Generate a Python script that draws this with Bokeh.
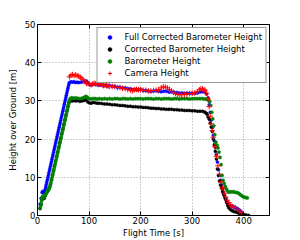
from bokeh.plotting import figure
from bokeh.models import Range1d, LinearAxis, FixedTicker, Legend, LegendItem
from bokeh.embed import file_html
from bokeh.resources import INLINE

# ---- data ----
full_t = [5, 7, 9, 10, 12, 14, 15, 16, 17, 18, 19, 20, 21, 22, 23, 24, 25, 26, 27, 28, 29, 30, 31,
          32, 33, 34, 35, 36, 37, 38, 39, 40, 41, 42, 43, 44, 45, 46, 47, 48, 49, 50, 51, 52, 53,
          54, 55, 56, 57, 58, 59, 60, 61, 62, 65, 68, 71, 74, 77, 80, 84, 88, 92, 95, 98, 101, 104,
          108, 112, 116, 120, 124, 128, 132, 136, 140, 145, 150, 155, 160, 165, 170, 175, 180, 185,
          190, 195, 200, 205, 210, 215, 220, 225, 230, 235, 240, 245, 250, 255, 260, 265, 270, 275,
          280, 285, 290, 295, 300, 305, 310, 315, 320, 325, 328, 331, 333, 335, 337, 339, 341, 343,
          345, 347, 349, 351, 353, 355, 357, 359, 361, 363, 365, 367, 369, 371, 374, 377, 380, 383,
          386, 389, 392, 395]
full_h = [3.0, 4.5, 6.0, 6.3, 6.0, 6.4, 6.9, 7.5, 8.1, 8.7, 9.3, 9.9, 10.5, 11.1, 11.7, 12.3, 12.9,
          13.5, 14.1, 14.7, 15.3, 15.9, 16.5, 17.1, 17.7, 18.3, 18.9, 19.5, 20.1, 20.7, 21.3, 21.9,
          22.5, 23.1, 23.7, 24.3, 24.9, 25.5, 26.1, 26.7, 27.3, 27.9, 28.5, 29.1, 29.7, 30.3, 30.9,
          31.5, 32.1, 32.7, 33.3, 33.9, 34.4, 34.8, 35.0, 34.9, 35.0, 34.8, 34.9, 34.8, 34.9, 35.0,
          35.1, 35.2, 34.7, 34.3, 34.2, 34.4, 34.3, 34.4, 34.1, 34.2, 34.0, 34.1, 33.9, 34.0, 33.8,
          33.8, 33.6, 33.6, 33.4, 33.4, 33.2, 33.2, 33.0, 33.0, 32.9, 33.0, 32.8, 32.7, 32.6, 32.5,
          32.6, 32.7, 32.5, 32.4, 32.5, 32.5, 32.3, 32.3, 32.2, 32.2, 32.1, 32.1, 32.0, 32.0, 32.0,
          32.0, 32.0, 32.1, 32.3, 32.4, 32.2, 31.8, 30.8, 29.0, 27.0, 25.0, 23.0, 21.0, 19.5, 17.8,
          16.0, 14.0, 12.0, 10.5, 9.2, 8.0, 7.0, 6.0, 5.2, 4.4, 3.7, 3.1, 2.7, 2.5, 2.4, 2.3, 2.1,
          1.9, 1.7, 1.4, 1.0]

corr_t = [5, 7, 9, 11, 13, 15, 17, 19, 21, 23, 25, 27, 29, 31, 33, 35, 37, 39, 41, 43, 45, 47, 49, 51,
          53, 55, 57, 59, 61, 64, 67, 70, 74, 78, 82, 86, 90, 94, 97, 100, 104, 108, 112, 116, 120,
          125, 130, 135, 140, 145, 150, 155, 160, 165, 170, 175, 180, 185, 190, 195, 200, 205, 210,
          215, 220, 225, 230, 235, 240, 245, 250, 255, 260, 265, 270, 275, 280, 285, 290, 295, 300,
          305, 310, 315, 320, 324, 327, 329, 331, 333, 335, 337, 339, 341, 343, 345, 347, 349, 351,
          353, 355, 357, 359, 361, 363, 365, 367, 369, 371, 374, 377, 380, 383, 386, 389, 392, 395,
          398, 401, 404, 407, 410]
corr_h = [1.8, 2.8, 4.2, 4.7, 4.5, 5.2, 5.9, 6.4, 6.8, 7.4, 8.2, 9.4, 10.6, 11.8, 13.0, 14.2, 15.4,
          16.6, 17.8, 19.0, 20.2, 21.4, 22.6, 23.8, 25.0, 26.2, 27.4, 28.6, 29.6, 30.2, 30.0, 30.1,
          30.0, 30.1, 29.9, 30.0, 30.1, 30.3, 29.8, 29.5, 29.4, 29.6, 29.5, 29.4, 29.4, 29.3, 29.2,
          29.2, 29.1, 29.0, 29.0, 28.9, 28.8, 28.8, 28.7, 28.6, 28.6, 28.5, 28.5, 28.4, 28.4, 28.3,
          28.3, 28.2, 28.1, 28.1, 28.0, 28.0, 27.9, 27.9, 27.8, 27.8, 27.8, 27.7, 27.7, 27.6, 27.6,
          27.5, 27.5, 27.5, 27.4, 27.4, 27.3, 27.3, 27.3, 27.1, 26.8, 26.5, 25.8, 25.2, 24.2, 23.2,
          22.0, 20.0, 18.5, 16.8, 14.8, 12.2, 10.5, 9.0, 8.0, 7.2, 6.3, 5.5, 4.8, 4.2, 3.4, 2.6, 2.0,
          1.6, 1.3, 1.1, 1.0, 0.9, 0.7, 0.5, 0.3, 0.3, 0.2, 0.1, 0.0, 0.0]

baro_t = [5, 6, 7, 8, 9, 10, 11, 12, 13, 14, 15, 16, 17, 18, 19, 20, 21, 22, 23, 24, 25, 26, 27, 28,
          29, 30, 31, 32, 33, 34, 35, 36, 37, 38, 39, 40, 41, 42, 43, 44, 45, 46, 47, 48, 49, 50,
          51, 52, 53, 54, 55, 56, 57, 58, 59, 60, 61, 62, 64, 67, 70, 74, 78, 82, 86, 90, 94, 97,
          100, 104, 108, 112, 116, 120, 125, 130, 135, 140, 145, 150, 155, 160, 165, 170, 175, 180,
          185, 190, 195, 200, 205, 210, 215, 220, 225, 230, 235, 240, 245, 250, 255, 260, 265, 270,
          275, 280, 285, 290, 295, 300, 305, 310, 315, 320, 324, 327, 330, 332, 334, 336, 338, 340,
          342, 344, 346, 348, 350, 352, 354, 356, 358, 360, 362, 364, 366, 368, 371, 374, 377, 380,
          383, 386, 389, 392, 395, 398, 401, 404, 407]
baro_h = [2.0, 2.6, 3.2, 3.9, 4.5, 4.9, 5.1, 4.9, 4.8, 5.0, 5.3, 5.6, 5.9, 6.1, 6.3, 6.5, 6.7, 6.9,
          7.2, 7.5, 8.0, 8.6, 9.2, 9.8, 10.4, 11.0, 11.6, 12.2, 12.8, 13.4, 14.0, 14.6, 15.2, 15.8,
          16.4, 17.0, 17.6, 18.2, 18.8, 19.4, 20.0, 20.6, 21.2, 21.8, 22.4, 23.0, 23.6, 24.2, 24.8,
          25.4, 26.0, 26.6, 27.2, 27.8, 28.4, 29.0, 29.6, 30.2, 30.7, 30.8, 30.7, 30.8, 30.7, 30.6,
          30.7, 30.9, 31.2, 30.9, 30.6, 30.5, 30.6, 30.6, 30.5, 30.6, 30.5, 30.6, 30.5, 30.6, 30.5,
          30.6, 30.6, 30.5, 30.6, 30.6, 30.5, 30.6, 30.5, 30.6, 30.6, 30.6, 30.5, 30.6, 30.6, 30.6,
          30.5, 30.6, 30.6, 30.5, 30.6, 30.6, 30.6, 30.5, 30.6, 30.6, 30.5, 30.6, 30.6, 30.6, 30.5,
          30.6, 30.6, 30.6, 30.6, 30.6, 30.5, 30.5, 30.4, 30.1, 29.8, 28.8, 27.0, 25.3, 23.5, 21.2,
          19.2, 18.4, 17.7, 16.6, 15.2, 13.3, 10.5, 9.2, 8.4, 7.6, 7.0, 6.5, 6.1, 6.2, 6.2, 6.2,
          6.1, 6.0, 5.9, 5.6, 5.3, 5.0, 4.8, 4.7, 4.6]

cam_t = [62, 65, 68, 71, 74, 77, 80, 83, 86, 89, 92, 95, 98, 101, 104, 107, 110, 113, 116, 119, 122,
         125, 128, 131, 134, 137, 140, 145, 150, 155, 160, 165, 170, 175, 180, 184, 188, 192, 196,
         200, 205, 210, 215, 220, 225, 230, 235, 240, 244, 248, 252, 256, 260, 264, 268, 272, 276,
         280, 285, 290, 295, 300, 305, 310, 314, 317, 320, 323, 325, 328, 331, 333, 335, 337, 339,
         341, 344, 347, 350, 353, 356, 359, 362, 365, 368, 371, 374, 377, 380, 384, 388, 392, 395]
cam_h = [36.3, 36.7, 36.9, 36.6, 36.8, 36.6, 36.5, 36.2, 35.8, 35.5, 35.0, 34.6, 34.5, 34.4, 34.2,
         34.4, 34.6, 34.5, 34.3, 34.6, 34.4, 34.2, 34.0, 34.1, 34.0, 33.9, 33.8, 33.8, 33.7, 33.5,
         33.5, 33.3, 33.2, 33.0, 32.8, 32.6, 32.9, 33.0, 32.9, 32.9, 32.8, 32.8, 32.6, 32.6, 32.7,
         32.8, 33.0, 33.4, 33.7, 33.6, 33.4, 33.0, 32.6, 32.2, 31.9, 31.7, 31.6, 31.6, 31.7, 31.8,
         31.9, 32.0, 32.1, 32.4, 32.9, 33.2, 33.1, 32.9, 32.8, 32.0, 30.5, 28.5, 26.0, 24.0, 22.2,
         20.5, 18.0, 15.5, 13.0, 10.8, 8.8, 7.2, 5.8, 4.8, 4.0, 3.4, 2.8, 2.4, 2.2, 2.0, 1.6, 1.2, 0.8]

x_ticks = [0, 100, 200, 300, 400]
y_ticks = [0, 10, 20, 30, 40, 50]

FONT = "DejaVu Sans"
FS = "8.5px"

p = figure(width=300, height=240, output_backend="svg", toolbar_location=None,
           x_range=Range1d(0, 450), y_range=Range1d(0, 50),
           min_border_left=37, min_border_right=31, min_border_top=24, min_border_bottom=24,
           background_fill_color="white", border_fill_color="white")
p.outline_line_color = "black"
p.outline_line_width = 1

r_full = p.scatter(full_t, full_h, marker="circle", size=3.0, fill_color="blue",
                   line_color="blue", line_width=0.5)
r_corr = p.scatter(corr_t, corr_h, marker="circle", size=3.0, fill_color="black",
                   line_color="black", line_width=0.5)
r_baro = p.scatter(baro_t, baro_h, marker="circle", size=3.2, fill_color="green",
                   line_color="green", line_width=0.5)
r_cam = p.scatter(cam_t, cam_h, marker="cross", size=5.5, line_color="red", line_width=1)

for ax in (p.xaxis[0], p.yaxis[0]):
    ax.major_label_text_font = FONT
    ax.major_label_text_font_size = FS
    ax.major_label_text_color = "black"
    ax.axis_label_text_font = FONT
    ax.axis_label_text_font_size = FS
    ax.axis_label_text_font_style = "normal"
    ax.axis_label_text_color = "black"
    ax.major_tick_in = 4
    ax.major_tick_out = 0
    ax.minor_tick_in = 0
    ax.minor_tick_out = 0
    ax.axis_line_color = "black"
    ax.major_tick_line_color = "black"

p.xaxis[0].ticker = FixedTicker(ticks=x_ticks)
p.yaxis[0].ticker = FixedTicker(ticks=y_ticks)
p.xaxis[0].axis_label = "Flight Time [s]"
p.yaxis[0].axis_label = "Height over Ground [m]"
p.xaxis[0].major_label_standoff = 1
p.xaxis[0].axis_label_standoff = 1
p.yaxis[0].major_label_standoff = 2
p.yaxis[0].axis_label_standoff = 4

for loc, tk in (("above", x_ticks), ("right", y_ticks)):
    a = LinearAxis(ticker=FixedTicker(ticks=tk),
                   major_label_overrides={t: "" for t in tk},
                   major_tick_in=4, major_tick_out=0, minor_tick_in=0, minor_tick_out=0,
                   major_label_standoff=0, axis_line_color="black")
    p.add_layout(a, loc)

p.xgrid.ticker = FixedTicker(ticks=x_ticks)
p.ygrid.ticker = FixedTicker(ticks=y_ticks)
p.grid.grid_line_color = "#a0a0a0"
p.grid.grid_line_dash = "1 2"
p.grid.grid_line_width = 1

legend = Legend(items=[
    LegendItem(label="Full Corrected Barometer Height", renderers=[r_full]),
    LegendItem(label="Corrected Barometer Height", renderers=[r_corr]),
    LegendItem(label="Barometer Height", renderers=[r_baro]),
    LegendItem(label="Camera Height", renderers=[r_cam]),
], location="top_right")
legend.margin = 3
legend.padding = 3
legend.spacing = 0
legend.glyph_width = 18
legend.glyph_height = 10
legend.label_height = 12
legend.label_standoff = 6
legend.label_text_font = FONT
legend.label_text_font_size = FS
legend.label_text_color = "black"
legend.border_line_color = "#333333"
legend.border_line_width = 1
legend.background_fill_color = "white"
legend.background_fill_alpha = 1.0
p.add_layout(legend, "center")

open("out.html", "w").write(file_html(p, INLINE))
